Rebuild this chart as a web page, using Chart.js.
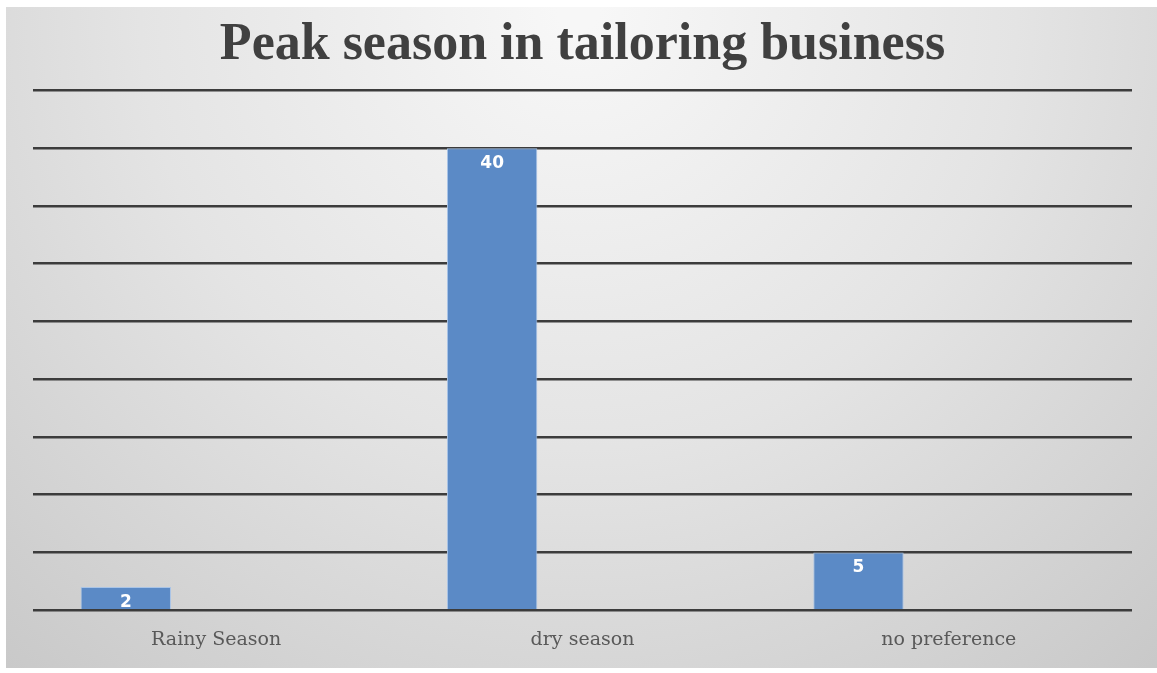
<!DOCTYPE html>
<html>
<head>
<meta charset="utf-8">
<title>Peak season in tailoring business</title>
<script src="https://cdn.jsdelivr.net/npm/chart.js@4/dist/chart.umd.min.js"></script>
<style>
  html, body { margin: 0; padding: 0; background: #fff; }
  #wrap { width: 1157px; height: 673px; position: relative; }
</style>
</head>
<body>
<div id="wrap"><canvas id="seasonChart"></canvas></div>
<script>
// --- datos de la encuesta ---
const seasons = ['Rainy Season', 'dry season', 'no preference'];
const tailors = [2, 40, 5];
const yTicks = [0, 5, 10, 15, 20, 25, 30, 35, 40, 45];

// fondo gris con degradado (más claro arriba al centro)
const fondo = {
    id: 'fondo',
    beforeDraw(chart) {
        const c = chart.ctx;
        const w = chart.width, h = chart.height;
        c.save();
        c.fillStyle = '#ffffff';
        c.fillRect(0, 0, w, h);
        const g = c.createRadialGradient(w / 2, 10, 20, w / 2, 10, 950);
        g.addColorStop(0, '#f7f7f7');
        g.addColorStop(0.45, '#e4e4e4');
        g.addColorStop(1, '#c4c4c4');
        c.fillStyle = g;
        c.fillRect(6, 7, w - 6, h - 12);
        c.restore();
    }
};

// número blanco dentro de la barra, arriba
const etiquetas = {
    id: 'etiquetas',
    afterDatasetsDraw(chart) {
        const c = chart.ctx;
        const meta = chart.getDatasetMeta(0);
        c.save();
        c.fillStyle = '#ffffff';
        c.font = 'bold 17px "DejaVu Sans"';
        c.textAlign = 'center';
        c.textBaseline = 'middle';
        meta.data.forEach((bar, i) => {
            c.fillText(String(tailors[i]), bar.x, bar.y + 15);
        });
        c.restore();
    }
};

const ctx = document.getElementById('seasonChart').getContext('2d');
new Chart(ctx, {
    type: 'bar',
    data: {
        labels: seasons,
        datasets: [
            {
                data: tailors,
                backgroundColor: '#5b8ac6',
                borderColor: '#a9c4e6',
                borderWidth: 1,
                categoryPercentage: 0.74,
                barPercentage: 1
            },
            // series vacías: ocupan su lugar en cada grupo
            { data: [], categoryPercentage: 0.74, barPercentage: 1 },
            { data: [], categoryPercentage: 0.74, barPercentage: 1 }
        ]
    },
    options: {
        responsive: true,
        maintainAspectRatio: false,
        animation: false,
        layout: {
            padding: { top: 7, left: 33, right: 25, bottom: 12 }
        },
        plugins: {
            legend: { display: false },
            tooltip: { enabled: false },
            title: {
                display: true,
                text: 'Peak season in tailoring business',
                color: '#404040',
                font: { family: '"Liberation Serif"', size: 52, weight: 'bold' },
                padding: { top: 7, bottom: 14 }
            }
        },
        scales: {
            x: {
                grid: { display: false },
                border: { display: false },
                ticks: {
                    color: '#595959',
                    padding: 10,
                    font: { family: '"DejaVu Serif"', size: 19 }
                }
            },
            y: {
                min: 0,
                max: 45,
                afterBuildTicks(scale) {
                    scale.ticks = yTicks.map(v => ({ value: v }));
                },
                grid: {
                    color: '#3c3c3c',
                    lineWidth: 2.5,
                    drawTicks: false
                },
                border: { display: false },
                ticks: { display: false }
            }
        }
    },
    plugins: [fondo, etiquetas]
});
</script>
</body>
</html>
